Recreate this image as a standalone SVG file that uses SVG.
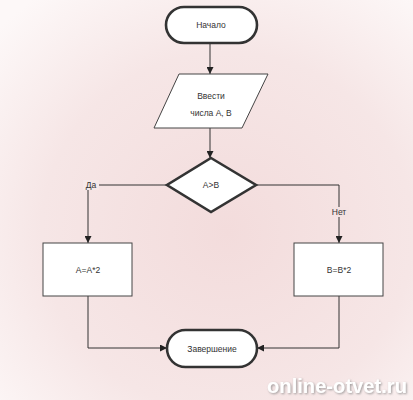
<svg xmlns="http://www.w3.org/2000/svg" width="413" height="400" viewBox="0 0 413 400">
<defs>
<radialGradient id="bg" cx="0.55" cy="0.58" r="0.75">
<stop offset="0" stop-color="#f3dcdc"/>
<stop offset="0.6" stop-color="#f6e6e6"/>
<stop offset="1" stop-color="#fdf8f8"/>
</radialGradient>
<marker id="arr" viewBox="0 0 10 10" refX="10" refY="5" markerWidth="7" markerHeight="7" markerUnits="userSpaceOnUse" orient="auto">
<path d="M0,0 L10,5 L0,10 z" fill="#222"/>
</marker>
<filter id="sh" x="-10%" y="-30%" width="120%" height="160%">
<feGaussianBlur in="SourceAlpha" stdDeviation="1"/>
<feOffset dx="1" dy="1" result="b"/>
<feFlood flood-color="#888" flood-opacity="0.8"/>
<feComposite in2="b" operator="in"/>
<feMerge><feMergeNode/><feMergeNode in="SourceGraphic"/></feMerge>
</filter>
</defs>
<style>
.term{fill:#fff;stroke:#333;stroke-width:2.6}
.thick{fill:#fff;stroke:#333;stroke-width:2.6}
.thin{fill:#fff;stroke:#444;stroke-width:1}
.lbl{font-family:"Liberation Sans",Arial,sans-serif;font-size:8.5px;fill:#333;text-anchor:middle;dominant-baseline:central}
.edge{fill:none;stroke:#333;stroke-width:1}
</style>
<rect x="0" y="0" width="413" height="400" fill="url(#bg)"/>
<g id="connectors">
<path class="edge" d="M210,43 L210,74" marker-end="url(#arr)"/>
<path class="edge" d="M210,128 L210,158" marker-end="url(#arr)"/>
<path class="edge" d="M167,185 L88,185 L88,243" marker-end="url(#arr)"/>
<path class="edge" d="M256,185 L339,185 L339,243" marker-end="url(#arr)"/>
<path class="edge" d="M88,296 L88,348 L167,348" marker-end="url(#arr)"/>
<path class="edge" d="M339,296 L339,348 L257,348" marker-end="url(#arr)"/>
<rect x="83" y="180" width="16" height="10" fill="#f6e9e9"/>
<text class="lbl" x="91" y="185">Да</text>
<rect x="330" y="207" width="19" height="10" fill="#f4e2e2"/>
<text class="lbl" x="339" y="212">Нет</text>
</g>
<g id="start">
<rect class="term" x="166" y="7" width="91" height="36" rx="18"/>
<text class="lbl" x="211" y="25">Начало</text>
</g>
<g id="input">
<polygon class="thin" points="179,74 268,74 242,128 154,128"/>
<text class="lbl" x="211" y="96">Ввести</text>
<text class="lbl" x="211" y="113">числа А, В</text>
</g>
<g id="decision">
<polygon class="thick" points="211,158 256,185 211,212 167,185"/>
<text class="lbl" x="211" y="185">A&gt;B</text>
</g>
<g id="procA">
<rect class="thin" x="43" y="243" width="89" height="53"/>
<text class="lbl" x="88" y="270">A=A*2</text>
</g>
<g id="procB">
<rect class="thin" x="294" y="243" width="89" height="53"/>
<text class="lbl" x="339" y="270">B=B*2</text>
</g>
<g id="end">
<rect class="term" x="167" y="330" width="90" height="37" rx="18.5"/>
<text class="lbl" x="212" y="348.5">Завершение</text>
</g>
<text x="267" y="393" font-family="'Liberation Sans',Arial,sans-serif" font-weight="bold" font-size="20" fill="#fff" textLength="140" lengthAdjust="spacingAndGlyphs" filter="url(#sh)">online-otvet.ru</text>
</svg>
